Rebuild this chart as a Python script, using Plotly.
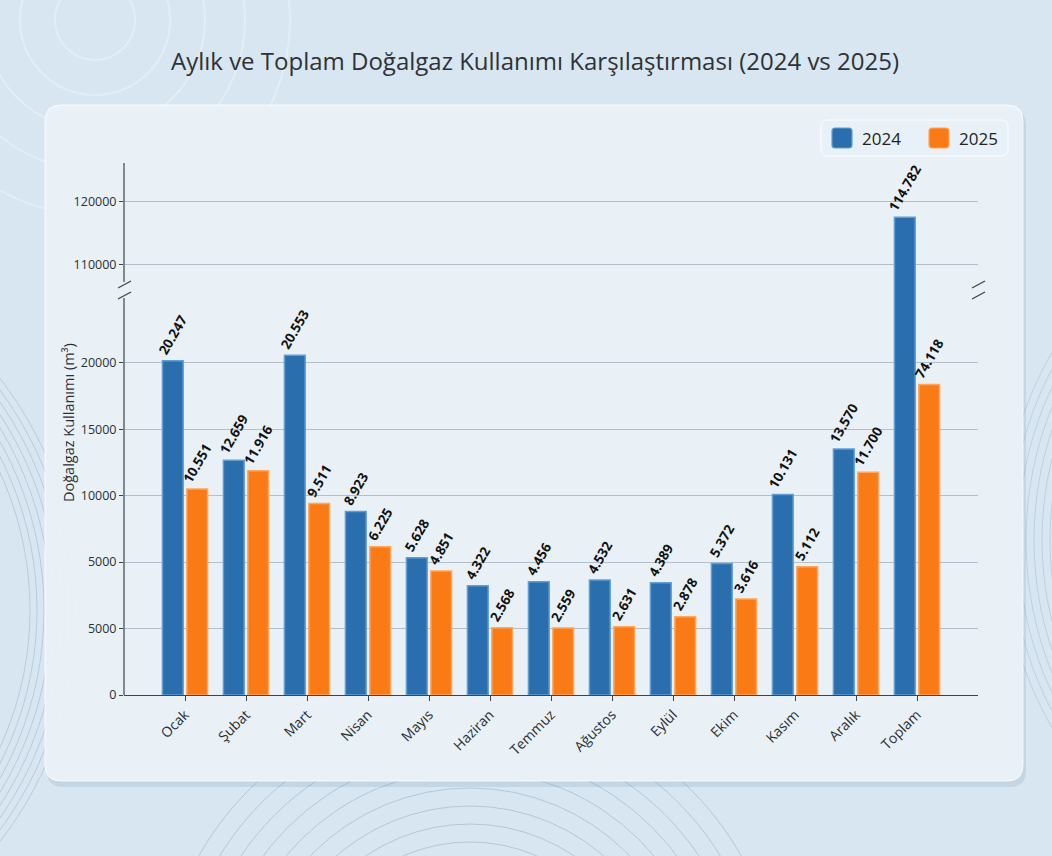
import plotly.graph_objects as go

# ---------------- data ----------------
months = ["Ocak", "Şubat", "Mart", "Nisan", "Mayıs", "Haziran", "Temmuz",
          "Ağustos", "Eylül", "Ekim", "Kasım", "Aralık", "Toplam"]
series_names = ["2024", "2025"]
values_2024 = [20247, 12659, 20553, 8923, 5628, 4322, 4456, 4532, 4389, 5372, 10131, 13570, 114782]
values_2025 = [10551, 11916, 9511, 6225, 4851, 2568, 2559, 2631, 2878, 3616, 5112, 11700, 74118]
# bar heights as drawn on the (broken) value axis of the picture
heights_2024 = [25140, 17670, 25560, 13810, 10320, 8220, 8520, 8650, 8440, 9900, 15090, 18500, 117500]
heights_2025 = [15490, 16870, 14410, 11150, 9320, 5060, 5040, 5140, 5890, 7220, 9650, 16750, 23360]
# axis ticks (labels exactly as shown in the picture)
lower_tickvals = [0, 5000, 10000, 15000, 20000, 25000]
lower_ticktext = ["0", "5000", "5000", "10000", "15000", "20000"]
upper_tickvals = [110000, 120000]
upper_ticktext = ["110000", "120000"]

title_text = "Aylık ve Toplam Doğalgaz Kullanımı Karşılaştırması (2024 vs 2025)"
ytitle_text = "Doğalgaz Kullanımı (m³)"

# ---------------- style ----------------
BLUE, BLUE_LINE = "#2b6ead", "#5f9fd6"
ORANGE, ORANGE_LINE = "#fa7b15", "#ffa75e"
FONT = "Open Sans"
TXT = "#2b2f33"
BG = "#d8e6f1"

W, H = 1052, 856
L, R, T, B = 124, 978, 163, 695
SPLIT = 290


def xp(px):
    return (px - L) / (R - L)


def yp(py):
    return (B - py) / (B - T)


def fmt(v):
    return f"{v:,}".replace(",", ".")


last = len(months) - 1
lower_text_2024 = [fmt(v) if i != last else "" for i, v in enumerate(values_2024)]
lower_text_2025 = [fmt(v) for v in values_2025]
upper_text_2024 = [fmt(v) if i == last else "" for i, v in enumerate(values_2024)]

label_font = dict(family=FONT, size=13.5, color="#111111", weight="bold")

common = dict(textposition="outside", textangle=-60, cliponaxis=False,
              constraintext="none", textfont=label_font, showlegend=False)

fig = go.Figure()
fig.add_trace(go.Bar(x=months, y=heights_2024, name=series_names[0], text=lower_text_2024,
                     marker=dict(color=BLUE, line=dict(color=BLUE_LINE, width=1.5)),
                     xaxis="x", yaxis="y", offsetgroup="a", **common))
fig.add_trace(go.Bar(x=months, y=heights_2025, name=series_names[1], text=lower_text_2025,
                     marker=dict(color=ORANGE, line=dict(color=ORANGE_LINE, width=1.5)),
                     xaxis="x", yaxis="y", offsetgroup="b", **common))
fig.add_trace(go.Bar(x=months, y=heights_2024, name=series_names[0], text=upper_text_2024,
                     marker=dict(color=BLUE, line=dict(color=BLUE_LINE, width=1.5)),
                     xaxis="x2", yaxis="y2", offsetgroup="a", **common))
fig.add_trace(go.Bar(x=months, y=[None] * len(months), name=series_names[1],
                     marker=dict(color=ORANGE, line=dict(color=ORANGE_LINE, width=1.5)),
                     xaxis="x2", yaxis="y2", offsetgroup="b", **common))

grid = "#b3c0cc"
axis_col = "#3c444c"
tickfont = dict(family=FONT, size=12.5, color=TXT)

fig.update_layout(
    width=W, height=H,
    margin=dict(l=L, r=W - R, t=T, b=H - B),
    paper_bgcolor=BG,
    plot_bgcolor="rgba(0,0,0,0)",
    barmode="group", bargap=0.2, bargroupgap=0.15,
    font=dict(family=FONT, color=TXT),
    showlegend=False,
    hovermode=False,
    title=dict(text=title_text, x=535 / W, xanchor="center", y=1 - 62 / H, yanchor="middle",
               font=dict(family=FONT, size=24, color="#2e3236")),
    xaxis=dict(domain=[0, 1], anchor="y", type="category", range=[-1, 13],
               showline=True, linecolor=axis_col, linewidth=1.2,
               ticks="outside", ticklen=5, tickcolor=axis_col, tickangle=-45,
               tickfont=dict(family=FONT, size=14, color=TXT), showgrid=False, zeroline=False),
    yaxis=dict(domain=[0, yp(SPLIT)], anchor="x", range=[0, 30470],
               tickvals=lower_tickvals, ticktext=lower_ticktext, tickfont=tickfont,
               ticks="outside", ticklen=4, tickcolor=axis_col,
               showgrid=True, gridcolor=grid, gridwidth=1, zeroline=False, showline=False),
    xaxis2=dict(domain=[0, 1], anchor="y2", matches="x", visible=False, type="category"),
    yaxis2=dict(domain=[yp(SPLIT), 1], anchor="x2", range=[105900, 126180],
                tickvals=upper_tickvals, ticktext=upper_ticktext, tickfont=tickfont,
                ticks="outside", ticklen=4, tickcolor=axis_col,
                showgrid=True, gridcolor=grid, gridwidth=1, zeroline=False, showline=False),
)


def rounded_rect(x0, y0, x1, y1, r):
    return (f"M {xp(x0 + r)},{yp(y0)} L {xp(x1 - r)},{yp(y0)} "
            f"Q {xp(x1)},{yp(y0)} {xp(x1)},{yp(y0 + r)} "
            f"L {xp(x1)},{yp(y1 - r)} Q {xp(x1)},{yp(y1)} {xp(x1 - r)},{yp(y1)} "
            f"L {xp(x0 + r)},{yp(y1)} Q {xp(x0)},{yp(y1)} {xp(x0)},{yp(y1 - r)} "
            f"L {xp(x0)},{yp(y0 + r)} Q {xp(x0)},{yp(y0)} {xp(x0 + r)},{yp(y0)} Z")


def circle(cx, cy, r, color, width):
    return dict(type="circle", xref="paper", yref="paper", layer="below",
                x0=xp(cx - r), x1=xp(cx + r), y0=yp(cy + r), y1=yp(cy - r),
                line=dict(color=color, width=width), fillcolor="rgba(0,0,0,0)")


shapes = []
# decorative background ripples
for r in (40, 75, 110, 150, 195):
    shapes.append(circle(95, 20, r, "rgba(255,255,255,0.3)", 2))
for r in range(150, 330, 18):
    shapes.append(circle(470, 1010, r, "rgba(110,140,170,0.35)", 1))
for r in range(330, 380, 7):
    shapes.append(circle(-300, 610, r, "rgba(110,140,170,0.3)", 1))
for r in range(330, 380, 8):
    shapes.append(circle(1380, 540, r, "rgba(110,140,170,0.25)", 1))
# card shadow + card
shapes.append(dict(type="path", xref="paper", yref="paper", layer="below",
                   path=rounded_rect(47, 109, 1026, 787, 16),
                   fillcolor="rgba(120,150,180,0.2)", line=dict(width=0)))
shapes.append(dict(type="path", xref="paper", yref="paper", layer="below",
                   path=rounded_rect(45, 105, 1023, 781, 16),
                   fillcolor="rgba(236,243,249,0.92)", line=dict(color="rgba(255,255,255,0.8)", width=1)))
# y axis lines (broken)
for (ya, yb) in [(B, SPLIT + 8), (SPLIT - 8, T)]:
    shapes.append(dict(type="line", xref="paper", yref="paper",
                       x0=0, x1=0, y0=yp(ya), y1=yp(yb),
                       line=dict(color=axis_col, width=1.2)))
# break marks
for cx in (L, R):
    for dy in (-5, 6):
        shapes.append(dict(type="line", xref="paper", yref="paper",
                           x0=xp(cx - 6), y0=yp(SPLIT + dy + 3), x1=xp(cx + 7), y1=yp(SPLIT + dy - 4),
                           line=dict(color=axis_col, width=1.3)))
# legend box
shapes.append(dict(type="path", xref="paper", yref="paper",
                   path=rounded_rect(821, 120, 1008, 156, 7),
                   fillcolor="rgba(232,240,248,0.95)", line=dict(color="rgba(255,255,255,0.9)", width=1)))
legend_items = [(series_names[0], BLUE, BLUE_LINE, 832), (series_names[1], ORANGE, ORANGE_LINE, 929)]
annotations = []
for name, col, lcol, x0 in legend_items:
    shapes.append(dict(type="path", xref="paper", yref="paper",
                       path=rounded_rect(x0, 128, x0 + 20, 148, 3),
                       fillcolor=col, line=dict(color=lcol, width=1.2)))
    annotations.append(dict(x=xp(x0 + 28), y=yp(138.5), xref="paper", yref="paper",
                            text=name, showarrow=False, xanchor="left", yanchor="middle",
                            font=dict(family=FONT, size=17, color="#222222")))

annotations.append(dict(x=xp(68), y=yp(423), xref="paper", yref="paper", text=ytitle_text,
                        textangle=-90, showarrow=False, xanchor="center", yanchor="middle",
                        font=dict(family=FONT, size=14.5, color=TXT)))

fig.update_layout(shapes=shapes, annotations=annotations)

fig.write_html("out.html", config={"displayModeBar": False},
               post_script="document.body.style.margin='0';document.body.style.padding='0';"
                           f"document.body.style.background='{BG}';")
